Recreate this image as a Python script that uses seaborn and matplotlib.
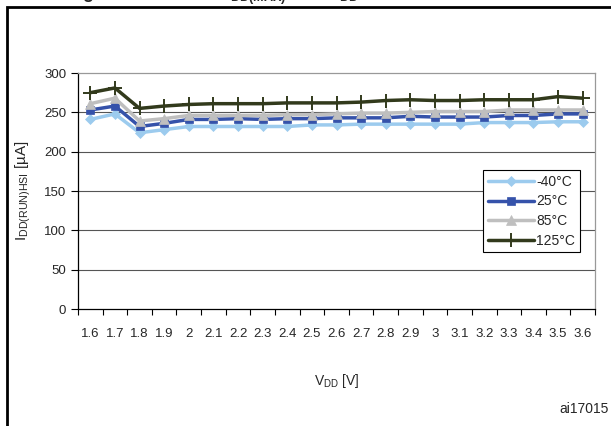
import numpy as np
import pandas as pd
import seaborn as sns
import matplotlib
matplotlib.use('Agg')
from matplotlib import pyplot as plt
from matplotlib.patches import Rectangle

# data
vdd = ["1.6", "1.7", "1.8", "1.9", "2", "2.1", "2.2", "2.3", "2.4", "2.5", "2.6",
       "2.7", "2.8", "2.9", "3", "3.1", "3.2", "3.3", "3.4", "3.5", "3.6"]
t_m40 = [241, 248, 224, 228, 232, 232, 232, 232, 232, 234, 234,
         235, 235, 235, 235, 235, 237, 237, 237, 238, 238]
t_25 = [253, 258, 232, 236, 241, 241, 242, 241, 242, 242, 243,
        243, 243, 245, 244, 244, 244, 246, 246, 248, 248]
t_85 = [261, 268, 239, 242, 246, 246, 246, 246, 247, 247, 248,
        249, 249, 250, 251, 251, 251, 253, 253, 253, 253]
t_125 = [275, 281, 255, 258, 260, 261, 261, 261, 262, 262, 262,
         263, 265, 266, 265, 265, 266, 266, 266, 270, 268]
y_ticks = [0, 50, 100, 150, 200, 250, 300]

series = {"-40°C": t_m40, "25°C": t_25, "85°C": t_85, "125°C": t_125}
colors = {"-40°C": "#9ccbee", "25°C": "#3552aa", "85°C": "#bfbfbf", "125°C": "#323a1c"}
markers = {"-40°C": "D", "25°C": "s", "85°C": "^", "125°C": "+"}
msizes = {"-40°C": 5, "25°C": 6, "85°C": 7, "125°C": 10}

sns.set_style("white")
plt.rcParams['font.family'] = ['Liberation Sans', 'DejaVu Sans']
plt.rcParams['mathtext.fontset'] = 'custom'
plt.rcParams['mathtext.rm'] = 'Liberation Sans'

fig = plt.figure(figsize=(6.11, 4.26), dpi=100)
ax = fig.add_axes([78/611, 1-309/426, (595-78)/611, (309-73)/426])

xpos = np.arange(len(vdd))
for name, vals in series.items():
    df = pd.DataFrame({"x": xpos, "y": vals})
    sns.lineplot(data=df, x="x", y="y", ax=ax, color=colors[name], lw=2.5,
                 marker=markers[name], markersize=msizes[name],
                 markeredgecolor=colors[name], markeredgewidth=1.4 if name == "125°C" else 0.5,
                 label=name, zorder=3)

ax.set_xlim(-0.5, len(vdd) - 0.5)
ax.set_ylim(0, 300)
ax.set_yticks(y_ticks)
ax.set_xticks(xpos)
ax.set_xticklabels(vdd)
ax.set_xticks(np.arange(-0.5, len(vdd)), minor=True)
ax.tick_params(axis='x', which='major', length=0, labelsize=9.5, pad=14)
ax.tick_params(axis='x', which='minor', length=4, direction='out', color='black', width=0.8, bottom=True)
ax.tick_params(axis='y', length=5, direction='out', color='black', width=0.8, labelsize=9.5, left=True)

for v in y_ticks[1:-1]:
    ax.axhline(v, color='#555555', lw=0.8, zorder=1)

ax.spines['left'].set_color('black')
ax.spines['bottom'].set_color('black')
ax.spines['top'].set_color('#999999')
ax.spines['right'].set_color('#999999')
for s in ax.spines.values():
    s.set_linewidth(0.9)

ax.set_xlabel(r"V$\mathregular{_{DD}}$ [V]", fontsize=10, labelpad=23)
ax.set_ylabel(r"I$\mathregular{_{DD(RUN)HSI}}$ [µA]", fontsize=11, labelpad=8)

leg = ax.legend(loc='upper left', bbox_to_anchor=(0.783, 0.589), borderaxespad=0,
                fontsize=10, handlelength=3.3, handletextpad=0.2, labelspacing=0.4,
                fancybox=False, framealpha=1, edgecolor='black', borderpad=0.35)
leg.get_frame().set_linewidth(0.8)

fig.text(609/611, 1-409/426, "ai17015", fontsize=10, ha='right', va='center')
# caption is cut off by the top edge in the reference, only its lower part shows
fig.text(67/611, 1 + 1/426,
         r"Figure 12. Run at V$\mathregular{_{DD(MAX)}}$ and V$\mathregular{_{DD}}$ = 3.6 V",
         fontsize=13, fontweight='bold', ha='left', va='baseline')

fig.patches.append(Rectangle((7/611, -0.1), 1.2, 1.1 - 7/426, transform=fig.transFigure,
                             fill=False, edgecolor='black', lw=2))

fig.savefig("out.png", dpi=100)
